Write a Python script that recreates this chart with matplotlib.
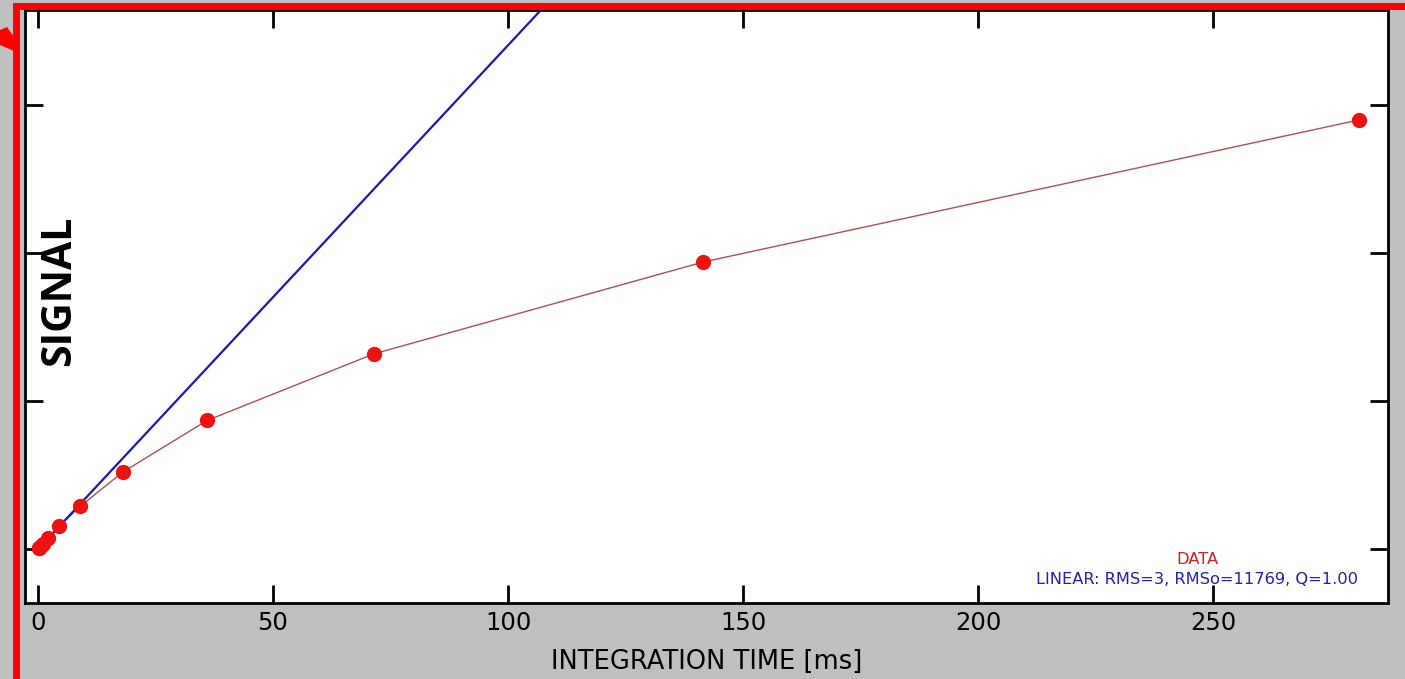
import matplotlib
matplotlib.use("Agg")
import matplotlib.pyplot as plt
from matplotlib.patches import Rectangle, Polygon
import numpy as np

# ---- data ----
integration_time_ms = [0.14, 0.28, 0.55, 1.1, 2.2, 4.5, 9.0, 18.0, 36.0, 71.5, 141.5, 281.0]
signal = [50, 100, 190, 370, 720, 1550, 2900, 5200, 8700, 13200, 19400, 29000]
linear_fit_x = [0.0, 112.0]
linear_slope = 340.5  # signal per ms
linear_fit_y = [linear_slope * v for v in linear_fit_x]

x_ticks = [0, 50, 100, 150, 200, 250]
y_ticks = [0, 10000, 20000, 30000]
legend_data = "DATA"
legend_linear = "LINEAR: RMS=3, RMSo=11769, Q=1.00"
x_label = "INTEGRATION TIME [ms]"
y_label = "SIGNAL"

W, H = 1405, 679
fig = plt.figure(figsize=(W / 100, H / 100), dpi=100)
fig.patch.set_facecolor("#bfbfbf")

def fx(px):
    return px / W

def fy(py):
    return 1 - py / H

AX_L, AX_R, AX_T, AX_B = 25, 1388, 10, 603
ax = fig.add_axes([fx(AX_L), fy(AX_B), fx(AX_R) - fx(AX_L), fy(AX_T) - fy(AX_B)])
ax.set_facecolor("white")
ax.set_xlim(-2.77, 287.2)
ax.set_ylim(-3640, 36430)

def axx(px):
    return (px - AX_L) / (AX_R - AX_L)

def axy(py):
    return (AX_B - py) / (AX_B - AX_T)

ax.plot(linear_fit_x, linear_fit_y, color="#1a1aa8", lw=1.6, zorder=3)
ax.plot(integration_time_ms, signal, color="#b05050", lw=1.0, zorder=2)
ax.plot(integration_time_ms, signal, ls="none", marker="o", ms=10,
        mfc="#ee1111", mec="#ee1111", zorder=4)

ax.set_xticks(x_ticks)
ax.set_yticks(y_ticks)
ax.set_yticklabels([])
ax.tick_params(axis="both", direction="in", length=13, width=2, color="black",
               top=True, right=True, labelsize=17.5, pad=6)
ax.tick_params(axis="y", labelleft=False)
for s in ax.spines.values():
    s.set_linewidth(2)
    s.set_color("black")

ax.set_xlabel(x_label, fontsize=18.5, labelpad=10, family="DejaVu Sans")
ax.text(axx(39), axy(216), y_label, transform=ax.transAxes, rotation=90,
        fontsize=29.5, fontweight="bold", ha="left", va="top", family="Open Sans")

ax.text(axx(1197), axy(560), legend_data,
        transform=ax.transAxes, color="#cc2222", fontsize=11.7, ha="center", va="center")
ax.text(axx(1197), axy(580), legend_linear,
        transform=ax.transAxes, color="#2222aa", fontsize=11.7, ha="center", va="center")

# red annotation frame
red = "#ff0000"
fig.add_artist(Rectangle((fx(13), 0), fx(19.5) - fx(13), fy(3), transform=fig.transFigure,
                         facecolor=red, edgecolor="none", zorder=10))
fig.add_artist(Rectangle((fx(13), fy(10)), 1 - fx(13), fy(3) - fy(10), transform=fig.transFigure,
                         facecolor=red, edgecolor="none", zorder=10))
arrow_px = [(0, 30), (7, 27), (14, 37), (14, 51), (0, 45)]
fig.add_artist(Polygon([(fx(a), fy(b)) for a, b in arrow_px], closed=True,
                       transform=fig.transFigure, facecolor=red, edgecolor="none", zorder=10))

fig.savefig("out.png", dpi=100, facecolor=fig.get_facecolor())
